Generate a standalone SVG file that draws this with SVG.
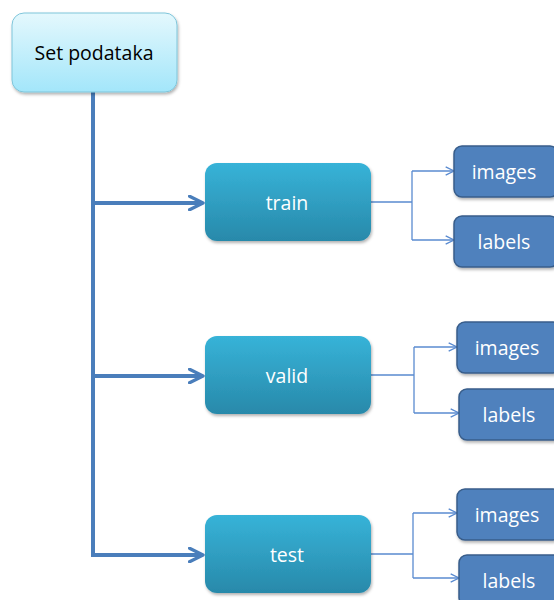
<svg xmlns="http://www.w3.org/2000/svg" width="554" height="600" viewBox="0 0 554 600">
<defs>
<linearGradient id="gTop" x1="0" y1="0" x2="0" y2="1"><stop offset="0" stop-color="#e4f8fd"/><stop offset="1" stop-color="#a3e6fa"/></linearGradient>
<linearGradient id="gMid" x1="0" y1="0" x2="0" y2="1"><stop offset="0" stop-color="#37b3d8"/><stop offset="1" stop-color="#2889aa"/></linearGradient>
<filter id="sh" x="-10%" y="-10%" width="130%" height="140%"><feDropShadow dx="1" dy="2" stdDeviation="1.5" flood-color="#000" flood-opacity="0.3"/></filter>
<marker id="aBig" viewBox="0 0 10 10" refX="9" refY="5" markerWidth="4.2" markerHeight="4.2" orient="auto" markerUnits="strokeWidth"><path d="M1,1 L9,5 L1,9" fill="none" stroke="#4a7ebb" stroke-width="2" stroke-linecap="round" stroke-linejoin="round"/></marker>
<marker id="aSm" viewBox="0 0 10 10" refX="9" refY="5" markerWidth="8" markerHeight="8" orient="auto" markerUnits="strokeWidth"><path d="M1,1 L9,5 L1,9" fill="none" stroke="#5a8bd0" stroke-width="1.3"/></marker>
</defs>
<style>
.top{fill:url(#gTop);stroke:#7fc5da;stroke-width:1}
.mid{fill:url(#gMid);stroke:none}
.sm{fill:#4f81bd;stroke:#385d8a;stroke-width:1.5}
.t{font-family:"Open Sans","Noto Sans",sans-serif;font-size:19.5px;text-anchor:middle;dominant-baseline:central}
.w{fill:#ffffff}
.big{fill:none;stroke:#4a7ebb;stroke-width:4}
.thin{fill:none;stroke:#5a8bd0;stroke-width:1.3}
</style>
<g id="connectors">
<path class="big" d="M93,92 V555 H203"/>
<path class="big" d="M93,203 H203" marker-end="url(#aBig)"/>
<path class="big" d="M93,376 H203" marker-end="url(#aBig)"/>
<path class="big" d="M93,555 H203" marker-end="url(#aBig)"/>
<path class="thin" d="M371,202 H412 M412,171 V240"/>
<path class="thin" d="M412,171 H454" marker-end="url(#aSm)"/>
<path class="thin" d="M412,240 H454" marker-end="url(#aSm)"/>
<path class="thin" d="M371,375 H414 M414,347 V413"/>
<path class="thin" d="M414,347 H457" marker-end="url(#aSm)"/>
<path class="thin" d="M414,413 H459" marker-end="url(#aSm)"/>
<path class="thin" d="M371,554 H413 M413,513 V578"/>
<path class="thin" d="M413,513 H457" marker-end="url(#aSm)"/>
<path class="thin" d="M413,578 H459" marker-end="url(#aSm)"/>
</g>
<g id="set-podataka"><rect class="top" x="12" y="13" width="165" height="79" rx="12" filter="url(#sh)"/><text class="t" x="94" y="52" fill="#000">Set podataka</text></g>
<g id="train"><rect class="mid" x="205" y="163" width="166" height="78" rx="12" filter="url(#sh)"/><text class="t w" x="287" y="202">train</text></g>
<g id="valid"><rect class="mid" x="205" y="336" width="166" height="78" rx="12" filter="url(#sh)"/><text class="t w" x="287" y="375">valid</text></g>
<g id="test"><rect class="mid" x="205" y="515" width="166" height="78" rx="12" filter="url(#sh)"/><text class="t w" x="287" y="554">test</text></g>
<g id="train-images"><rect class="sm" x="454" y="146" width="104" height="51" rx="8" filter="url(#sh)"/><text class="t w" x="504" y="171">images</text></g>
<g id="train-labels"><rect class="sm" x="454" y="216" width="104" height="51" rx="8" filter="url(#sh)"/><text class="t w" x="504" y="241">labels</text></g>
<g id="valid-images"><rect class="sm" x="457" y="322" width="104" height="51" rx="8" filter="url(#sh)"/><text class="t w" x="507" y="347">images</text></g>
<g id="valid-labels"><rect class="sm" x="459" y="389" width="104" height="51" rx="8" filter="url(#sh)"/><text class="t w" x="509" y="414">labels</text></g>
<g id="test-images"><rect class="sm" x="457" y="489" width="104" height="51" rx="8" filter="url(#sh)"/><text class="t w" x="507" y="514">images</text></g>
<g id="test-labels"><rect class="sm" x="459" y="555" width="104" height="51" rx="8" filter="url(#sh)"/><text class="t w" x="509" y="580">labels</text></g>
</svg>
